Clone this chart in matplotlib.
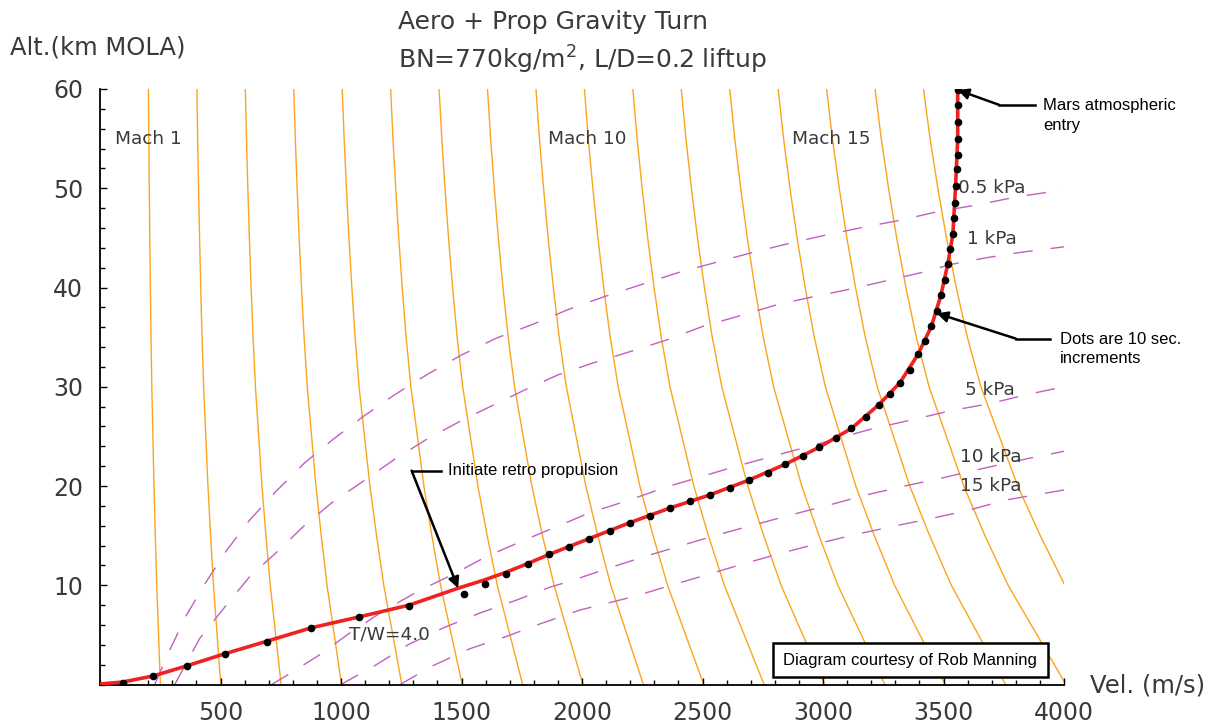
import numpy as np
import matplotlib.pyplot as plt
from matplotlib.patches import Rectangle
from matplotlib.ticker import MultipleLocator

# speed of sound profile (km, m/s)
alt_km = [0, 5, 10, 15, 20, 25, 30, 35, 40, 45, 50, 55, 60]
sound_speed = [250.5, 243, 235.5, 229.5, 224, 219.5, 215, 211.7, 209, 206.6, 204.5, 202.6, 201]
mach_numbers = [1, 2, 3, 4, 5, 6, 7, 8, 9, 10, 11, 12, 13, 14, 15, 16, 17]

# dynamic pressure lines (velocity m/s, altitude km)
q05_v = [227, 290, 359, 442, 525, 622, 732, 843, 967, 1092, 1223, 1362, 1500, 1645, 1797,
         1945, 2095, 2247, 2399, 2551, 2703, 2869, 3014, 3173, 3326, 3485, 3637, 3796, 3962, 4000]
q05_h = [0, 3.5, 7.0, 10.4, 13.5, 16.6, 19.5, 22.2, 24.7, 27.0, 29.2, 31.3, 33.2, 34.9, 36.3,
         37.8, 39.1, 40.3, 41.5, 42.5, 43.5, 44.5, 45.3, 46.1, 46.8, 47.7, 48.3, 49.1, 49.7, 49.8]
q1_v = [310, 414, 511, 622, 732, 843, 961, 1099, 1223, 1355, 1500, 1645, 1790, 1901, 2046,
        2129, 2350, 2503, 2662, 2814, 2966, 3125, 3284, 3443, 3526, 3678, 3837, 4000]
q1_h = [0, 4.65, 7.6, 10.9, 13.3, 15.9, 18.3, 20.6, 22.7, 24.7, 26.6, 28.3, 30.0, 31.2, 32.4,
        33.0, 34.7, 36.1, 37.2, 38.3, 39.1, 39.9, 40.8, 41.7, 42.3, 43.0, 43.6, 44.1]
q5_v = [712, 788, 912, 1037, 1175, 1320, 1465, 1604, 1756, 1894, 2032, 2198, 2351, 2489,
        2641, 2807, 2959, 3194, 3374, 3533, 3692, 3844, 4000]
q5_h = [0, 1.1, 3.0, 5.2, 7.4, 9.4, 11.1, 12.9, 14.5, 15.9, 17.3, 18.6, 19.9, 20.9,
        22.0, 23.1, 24.1, 25.7, 26.7, 27.6, 28.3, 29.2, 30.0]
q10_v = [1000, 1147, 1278, 1424, 1576, 1728, 1866, 1949, 2108, 2261, 2413, 2565, 2717,
         2869, 3028, 3180, 3339, 3492, 3651, 3817, 4000]
q10_h = [0, 2.0, 4.0, 5.7, 7.2, 8.5, 9.8, 10.4, 11.7, 12.9, 14.0, 15.1, 16.1,
         17.1, 18.1, 19.1, 20.0, 20.8, 21.7, 22.6, 23.5]
q15_v = [1245, 1382, 1534, 1693, 1825, 1991, 2205, 2357, 2510, 2662, 2821, 2980, 3132,
         3284, 3443, 3595, 3761, 4000]
q15_h = [0, 1.9, 3.6, 4.9, 6.1, 7.5, 8.8, 9.9, 11.0, 12.1, 13.2, 14.2, 15.1,
         15.9, 16.7, 17.5, 18.6, 19.6]

# trajectory dots, 10 s apart
dot_v = [3559, 3559, 3559, 3559, 3559, 3554, 3550, 3546, 3543, 3539, 3526, 3518, 3505, 3489,
         3471, 3450, 3423, 3395, 3361, 3319, 3277, 3232, 3178, 3118, 3053, 2984, 2917, 2844,
         2770, 2693, 2613, 2530, 2447, 2367, 2284, 2198, 2115, 2030, 1945, 1863, 1776, 1684,
         1597, 1510, 1283, 1073, 875, 691, 518, 363, 221, 94]
dot_h = [59.9, 58.4, 56.7, 55.0, 53.4, 51.9, 50.2, 48.5, 47.0, 45.4, 43.9, 42.4, 40.8, 39.2,
         37.6, 36.1, 34.6, 33.3, 31.7, 30.4, 29.3, 28.2, 27.0, 25.8, 24.8, 23.9, 23.0, 22.2,
         21.3, 20.6, 19.8, 19.1, 18.5, 17.8, 17.0, 16.3, 15.5, 14.7, 13.9, 13.1, 12.1, 11.1,
         10.1, 9.1, 7.9, 6.8, 5.7, 4.3, 3.1, 1.9, 0.86, 0.18]
# red trajectory line
line_v = [3559, 3559, 3550, 3539, 3518, 3489, 3450, 3395, 3319, 3232, 3118, 2984, 2844,
          2693, 2530, 2367, 2198, 2030, 1863, 1776, 1684, 1597, 1486, 1283, 1073, 875,
          691, 518, 363, 221, 94, 0]
line_h = [60, 55.0, 50.2, 45.4, 42.4, 39.2, 36.1, 33.3, 30.4, 28.2, 25.8, 23.9, 22.2,
          20.6, 19.1, 17.8, 16.3, 14.7, 13.1, 12.2, 11.3, 10.55, 9.7, 8.0, 6.8, 5.7,
          4.35, 3.1, 1.9, 0.86, 0.25, 0.05]

x_ticks = [500, 1000, 1500, 2000, 2500, 3000, 3500, 4000]
y_ticks = [10, 20, 30, 40, 50, 60]

orange = '#FBA51E'
purple = '#C060C0'
grey = '#3a3a3a'

fig = plt.figure(figsize=(12.16, 7.27), dpi=100)
ax = fig.add_axes([100 / 1216, 42.5 / 727, 964 / 1216, 595.5 / 727])

# Mach lines
a = np.array(sound_speed)
for m in mach_numbers:
    ax.plot(m * a, alt_km, color=orange, lw=1.0, zorder=1)

# constant dynamic pressure lines
for qv, qh in [(q05_v, q05_h), (q1_v, q1_h), (q5_v, q5_h), (q10_v, q10_h), (q15_v, q15_h)]:
    ax.plot(qv, qh, color=purple, lw=1.0, dashes=(14, 13), zorder=1)

ax.plot(line_v, line_h, color='#EE2222', lw=2.6, zorder=3)
ax.plot(dot_v, dot_h, 'o', color='black', ms=4.5, zorder=4)

ax.set_xlim(0, 4000)
ax.set_ylim(0, 60)
ax.spines['top'].set_visible(False)
ax.spines['right'].set_visible(False)
ax.spines['left'].set_linewidth(1.3)
ax.spines['bottom'].set_linewidth(1.3)
ax.set_xticks(x_ticks)
ax.set_yticks(y_ticks)
ax.xaxis.set_minor_locator(MultipleLocator(100))
ax.yaxis.set_minor_locator(MultipleLocator(2))
ax.tick_params(which='both', direction='in', width=1.0, colors='black', labelcolor=grey,
               labelsize=17)
ax.tick_params(which='major', length=5)
ax.tick_params(which='minor', length=3.5)
ax.tick_params(axis='x', pad=12)
ax.tick_params(axis='y', pad=12)

# labels on the plot
lab = dict(fontsize=13.3, color=grey, va='center', ha='left')
ax.text(61, 55.0, 'Mach 1', **lab)
ax.text(1859, 55.0, 'Mach 10', **lab)
ax.text(2873, 55.0, 'Mach 15', **lab)
ax.text(3560, 50.0, '0.5 kPa', **lab)
ax.text(3597, 44.9, '1 kPa', **lab)
ax.text(3591, 29.7, '5 kPa', **lab)
ax.text(3570, 22.97, '10 kPa', **lab)
ax.text(3570, 20.0, '15 kPa', **lab)
ax.text(1034, 4.99, 'T/W=4.0', **lab)

# annotations
note = dict(fontsize=12, family='Liberation Sans', color='black', va='center', ha='left')
arr = dict(arrowstyle='-|>', color='black', lw=1.8, mutation_scale=16, shrinkA=0, shrinkB=0)

ax.plot([3731, 3878], [58.4, 58.4], color='black', lw=1.8, clip_on=False, zorder=5)
ax.annotate('', xy=(3559, 59.9), xytext=(3731, 58.4), arrowprops=arr, annotation_clip=False)
ax.text(3913, 58.3, 'Mars atmospheric', **note)
ax.text(3913, 56.35, 'entry', **note)

ax.plot([3800, 3941], [34.85, 34.85], color='black', lw=1.8, clip_on=False, zorder=5)
ax.annotate('', xy=(3472, 37.4), xytext=(3800, 34.85), arrowprops=arr, annotation_clip=False)
ax.text(3983, 34.75, 'Dots are 10 sec.', **note)
ax.text(3983, 32.85, 'increments', **note)

ax.plot([1293, 1417], [21.55, 21.55], color='black', lw=1.8, zorder=5)
ax.annotate('', xy=(1486, 9.7), xytext=(1293, 21.55), arrowprops=arr)
ax.text(1444, 21.55, 'Initiate retro propulsion', **note)

ax.add_patch(Rectangle((0.698, 0.0121), 0.285, 0.0571, transform=ax.transAxes,
                       facecolor='white', edgecolor='black', lw=1.8, zorder=6))
ax.text(0.698 + 0.285 / 2, 0.0121 + 0.0571 / 2, 'Diagram courtesy of Rob Manning',
        transform=ax.transAxes, fontsize=12, family='Liberation Sans', ha='center',
        va='center', zorder=7)

# titles and axis names
fig.text(398 / 1216, 1 - 22 / 727, 'Aero + Prop Gravity Turn', fontsize=18, color=grey,
         ha='left', va='center')
fig.text(398 / 1216, 1 - 60 / 727, 'BN=770kg/m$^2$, L/D=0.2 liftup', fontsize=18,
         color=grey, ha='left', va='center')
fig.text(10 / 1216, 1 - 48 / 727, 'Alt.(km MOLA)', fontsize=17.5, color=grey,
         ha='left', va='center')
fig.text(1090 / 1216, 1 - 685 / 727, 'Vel. (m/s)', fontsize=17.5, color=grey,
         ha='left', va='center')

fig.savefig('out.png', dpi=100)
